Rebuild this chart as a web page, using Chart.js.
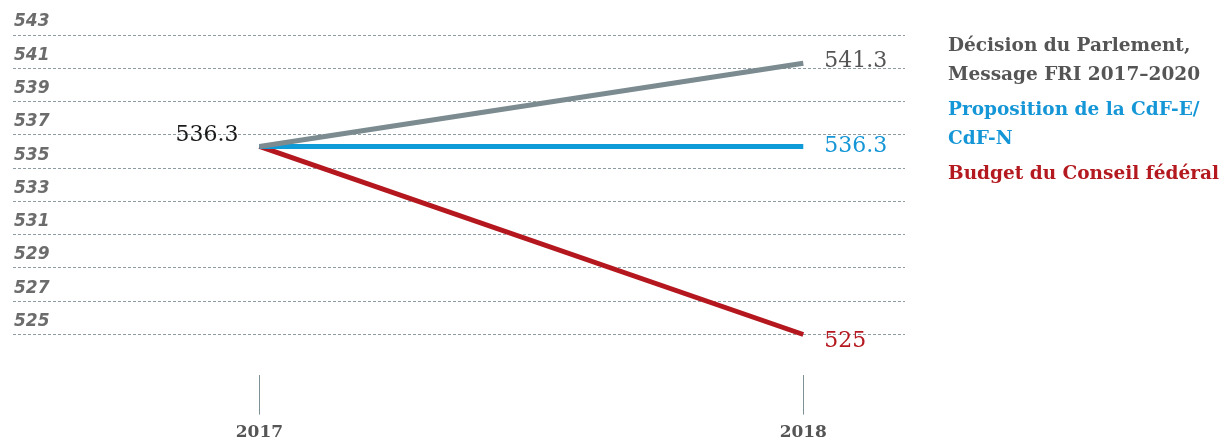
<!DOCTYPE html>
<html>
<head>
<meta charset="utf-8">
<script src="https://cdn.jsdelivr.net/npm/chart.js@4/dist/chart.umd.min.js"></script>
<style>
  html, body { margin: 0; padding: 0; background: #fff; }
  #wrap { position: relative; width: 1223px; height: 444px; }
  #legend { position: absolute; left: 948px; top: 30px; font-family: "DejaVu Serif", serif; font-weight: bold; font-size: 18.5px; }
  #legend div { line-height: 29px; margin-bottom: 6px; }
</style>
</head>
<body>
<div id="wrap">
  <canvas id="chart" width="1223" height="444"></canvas>
  <div id="legend"></div>
</div>
<script>
const years = [2017, 2018];
const yTicks = [525, 527, 529, 531, 533, 535, 537, 539, 541, 543];
const seriesNames = ['Décision du Parlement,\nMessage FRI 2017–2020', 'Proposition de la CdF-E/\nCdF-N', 'Budget du Conseil fédéral'];
const parlement = [536.3, 541.3];
const proposition = [536.3, 536.3];
const conseil = [536.3, 525];

const lineColors = ['#7b8b90', '#0f9ad8', '#b5171f'];
const labelColors = ['#555555', '#1596d6', '#b3191f'];
const endOffsets = [-2, 0, 7];

// legend as html text
const legend = document.getElementById('legend');
seriesNames.forEach((name, i) => {
    const d = document.createElement('div');
    d.style.color = labelColors[i];
    d.innerHTML = name.split('\n').join('<br>');
    legend.appendChild(d);
});

const valueLabels = {
    id: 'valueLabels',
    afterDatasetsDraw(chart) {
        const ctx = chart.ctx;
        ctx.save();
        ctx.font = '22px "DejaVu Serif"';
        ctx.textBaseline = 'middle';
        chart.data.datasets.forEach((ds, i) => {
            const pts = chart.getDatasetMeta(i).data;
            const last = pts[pts.length - 1];
            ctx.fillStyle = labelColors[i];
            ctx.textAlign = 'left';
            ctx.fillText(String(ds.data[ds.data.length - 1].y), last.x + 21, last.y + endOffsets[i]);
        });
        const first = chart.getDatasetMeta(0).data[0];
        ctx.fillStyle = '#1a1a1a';
        ctx.textAlign = 'right';
        ctx.fillText(String(parlement[0]), first.x - 21, first.y - 11);
        ctx.restore();
    }
};

const toPoints = arr => arr.map((v, i) => ({x: years[i], y: v}));

new Chart(document.getElementById('chart'), {
    type: 'line',
    data: {
        datasets: [
            {label: seriesNames[0], data: toPoints(parlement), borderColor: lineColors[0]},
            {label: seriesNames[1], data: toPoints(proposition), borderColor: lineColors[1]},
            {label: seriesNames[2], data: toPoints(conseil), borderColor: lineColors[2]},
        ].map(d => Object.assign(d, {borderWidth: 5, pointRadius: 0, fill: false, tension: 0})),
    },
    options: {
        responsive: false,
        animation: false,
        layout: {padding: {left: 11, right: 318, top: 35, bottom: -7}},
        plugins: {
            legend: {display: false},
            tooltip: {enabled: false},
        },
        scales: {
            x: {
                type: 'linear',
                min: 2016.547,
                max: 2018.187,
                afterBuildTicks: axis => { axis.ticks = years.map(v => ({value: v})); },
                grid: {drawOnChartArea: false, drawTicks: true, tickLength: 40, color: '#7f9196'},
                border: {display: false},
                ticks: {
                    callback: v => String(v),
                    color: '#555555',
                    padding: 8,
                    font: {family: 'DejaVu Serif', size: 17, weight: 'bold'},
                },
            },
            y: {
                min: 522.59,
                max: 543,
                afterBuildTicks: axis => { axis.ticks = yTicks.map(v => ({value: v})); },
                grid: {drawTicks: false, color: '#8d9ca3', lineWidth: 1},
                border: {display: false, dash: [3, 2]},
                ticks: {
                    mirror: true,
                    padding: 1,
                    labelOffset: -13,
                    color: '#6c6c6c',
                    font: {family: 'DejaVu Sans', size: 17, weight: 'bold', style: 'italic'},
                },
            },
        },
    },
    plugins: [valueLabels],
});
</script>
</body>
</html>
